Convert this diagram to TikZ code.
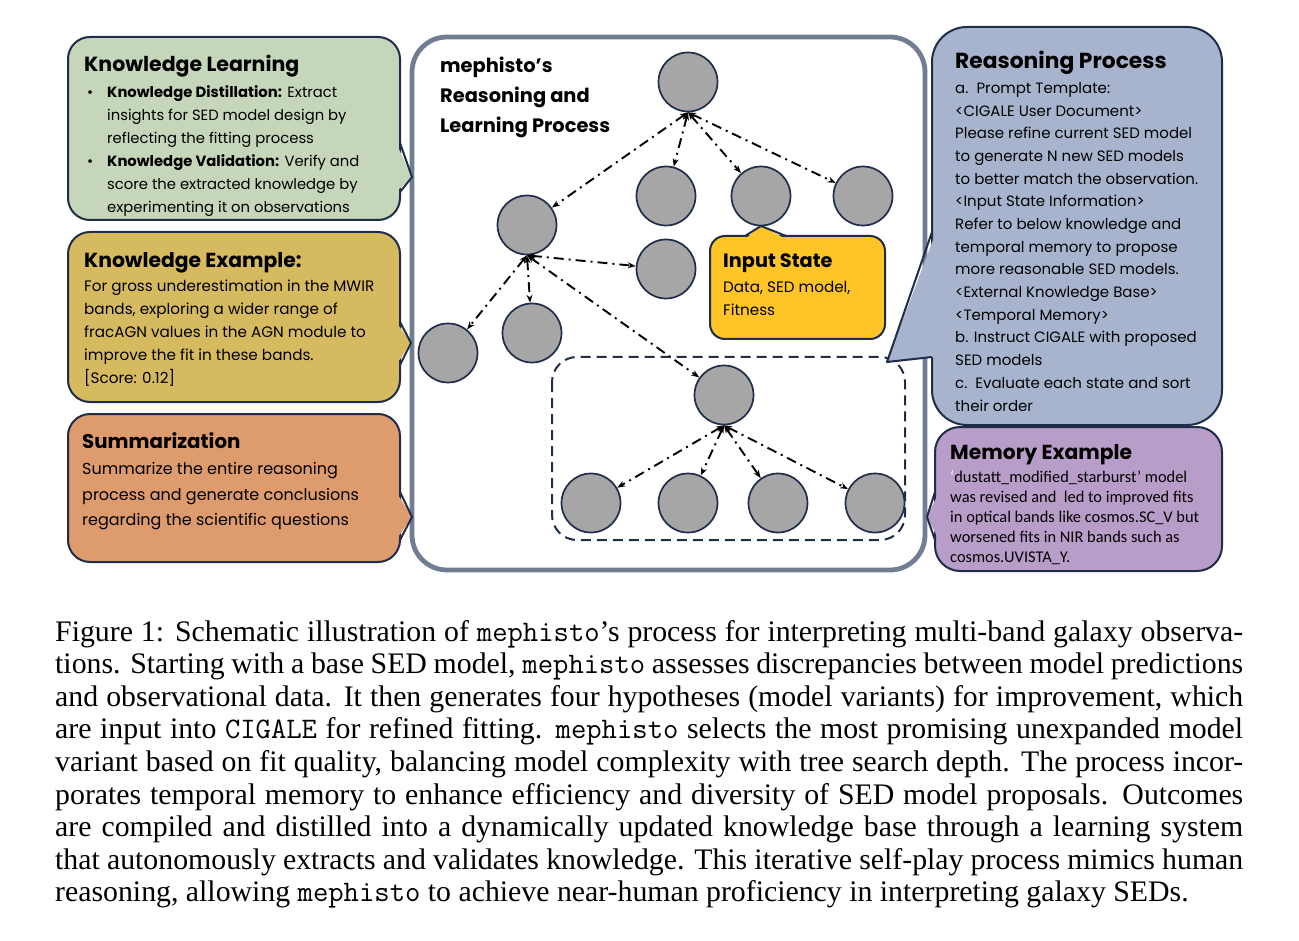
\documentclass[tikz,border=0pt]{standalone}
\usepackage{fontspec}
\setmainfont{Liberation Serif}
\newfontfamily\geofont{Poppins}
\newfontfamily\calfont{Carlito}
\usetikzlibrary{positioning,arrows.meta}

\definecolor{navy}{HTML}{1F2D49}
\definecolor{slate}{HTML}{717D92}
\definecolor{stategray}{HTML}{A6A6A6}
\definecolor{klgreen}{HTML}{C5D6BA}
\definecolor{kegold}{HTML}{D6BA60}
\definecolor{suorange}{HTML}{DE9B6E}
\definecolor{rpblue}{HTML}{A8B4CE}
\definecolor{mepurple}{HTML}{B99DC9}
\definecolor{isyellow}{HTML}{FFC425}

\begin{document}
\begin{tikzpicture}[x=1pt, y=-1pt,
  state/.style={circle, draw=navy, line width=1.7pt, fill=stategray, minimum size=59pt, inner sep=0},
  link/.style={{Stealth[length=8pt,width=6pt]}-{Stealth[length=8pt,width=6pt]}, line width=1.9pt,
    dash pattern=on 10pt off 5pt on 2pt off 5pt},
  panel/.style={draw=navy, line width=2pt, rounded corners=22pt},
  edge/.style={draw=navy, line width=2pt, line join=round},
  head/.style={anchor=base west, inner sep=0, font=\geofont\bfseries\fontsize{20.3}{24}\selectfont},
  note/.style={anchor=north west, inner sep=0, align=left, font=\geofont\fontsize{14.8}{23}\selectfont},
  capline/.style={anchor=base west, inner sep=0, font=\fontsize{29.8}{32.6}\selectfont}]
\useasboundingbox (0,0) rectangle (1299,941);

% main frame
\draw[draw=slate, line width=4.8pt, rounded corners=35pt, fill=white] (412,37) rectangle (925,570);
\node[anchor=north west, inner sep=0, align=left, font=\geofont\bfseries\fontsize{19.4}{30}\selectfont]
  (title) at (440,57) {mephisto’s\\ Reasoning and\\ Learning Process};

% left panels
\draw[panel, fill=klgreen] (68,37) rectangle (400,220);
\fill[klgreen] (396,143) -- (412,177) -- (396,192) -- cycle;
\draw[edge] (400,143) -- (412,177) -- (400,192);
\node[head, font=\geofont\bfseries\fontsize{20.5}{24}\selectfont] (kl-title) at (84,72) {Knowledge Learning};
\node[note] (kl-text) at (107,85)
  {\llap{\textbullet\hspace{14pt}}\textbf{Knowledge Distillation:} Extract\\ insights for SED model design by\\ reflecting the fitting process\\
   \llap{\textbullet\hspace{14pt}}\textbf{Knowledge Validation:} Verify and\\ score the extracted knowledge by\\ experimenting it on observations};

\draw[panel, fill=kegold] (68,232) rectangle (400,402);
\fill[kegold] (396,322) -- (411,343) -- (396,365) -- cycle;
\draw[edge] (400,322) -- (411,343) -- (400,365);
\node[head] (ke-title) at (84,268) {Knowledge Example:};
\node[note, font=\geofont\fontsize{15.2}{23}\selectfont] (ke-text) at (84,280)
  {For gross underestimation in the MWIR\\ bands, exploring a wider range of\\ fracAGN values in the AGN module to\\ improve the fit in these bands.\\ {[Score: 0.12]}};

\draw[panel, fill=suorange] (68,414) rectangle (400,562);
\fill[suorange] (396,492) -- (412,517) -- (396,540) -- cycle;
\draw[edge] (400,492) -- (412,517) -- (400,540);
\node[head, font=\geofont\bfseries\fontsize{19.8}{24}\selectfont] (su-title) at (82,448) {Summarization};
\node[note, font=\geofont\fontsize{16}{25.5}\selectfont] (su-text) at (82,462.5)
  {Summarize the entire reasoning\\ process and generate conclusions\\ regarding the scientific questions};

% search tree
\draw[navy, line width=2pt, dash pattern=on 10pt off 6pt, rounded corners=25pt] (552,357) rectangle (905,540);
\node[state] (root) at (688,82) {};
\node[state] (n1) at (527,225) {};
\node[state] (n2) at (666,196) {};
\node[state] (n3) at (761,196) {};
\node[state] (n4) at (863,196) {};
\node[state] (n5) at (448,353) {};
\node[state] (n6) at (532,333) {};
\node[state] (n7) at (666,269) {};
\node[state] (sub) at (724,395) {};
\node[state] (b1) at (591,503) {};
\node[state] (b2) at (688,503) {};
\node[state] (b3) at (778,503) {};
\node[state] (b4) at (875,503) {};
\draw[link] (root.south) -- (n1);
\draw[link] (root.south) -- (n2);
\draw[link] (root.south) -- (n3);
\draw[link] (root.south) -- (n4);
\draw[link] (n1.south) -- (n5);
\draw[link] (n1.south) -- (n6);
\draw[link] (n1.south) -- (n7);
\draw[link] (n1.south) -- (sub);
\draw[link] (sub.south) -- (b1);
\draw[link] (sub.south) -- (b2);
\draw[link] (sub.south) -- (b3);
\draw[link] (sub.south) -- (b4);

% input state
\draw[panel, rounded corners=15pt, fill=isyellow] (710,236) rectangle (885,339);
\fill[isyellow] (745,239) -- (761,226) -- (786,239) -- cycle;
\draw[edge] (745,236) -- (761,226) -- (786,236);
\node[head, font=\geofont\bfseries\fontsize{19.3}{24}\selectfont] (is-title) at (723,268) {Input State};
\node[note, font=\geofont\fontsize{15.2}{23}\selectfont] (is-text) at (723,281) {Data, SED model,\\ Fitness};

% right panels
\draw[panel, rounded corners=35pt, fill=rpblue] (932,27) rectangle (1222,425);
\fill[rpblue] (936,232) -- (887,362) -- (936,357) -- cycle;
\draw[edge] (932,232) -- (887,362) -- (932,357);
\node[head, font=\geofont\bfseries\fontsize{21.8}{24}\selectfont] (rp-title) at (955,69) {Reasoning Process};
\node[note, font=\geofont\fontsize{15}{22.7}\selectfont] (rp-text) at (955,82)
  {a.\ \ Prompt Template:\\ <CIGALE User Document>\\ Please refine current SED model\\ to generate N new SED models\\
   to better match the observation.\\ <Input State Information>\\ Refer to below knowledge and\\ temporal memory to propose\\
   more reasonable SED models.\\ <External Knowledge Base>\\ <Temporal Memory>\\ b. Instruct CIGALE with proposed\\
   SED models\\ c.\ \ Evaluate each state and sort\\ their order};

\draw[panel, rounded corners=25pt, fill=mepurple] (935,427) rectangle (1222,571);
\fill[mepurple] (939,492) -- (927,517) -- (939,540) -- cycle;
\draw[edge] (935,492) -- (927,517) -- (935,540);
\node[head] (me-title) at (950,459) {Memory Example};
\node[note, font=\calfont\fontsize{16.4}{20.1}\selectfont] (me-text) at (950,470.5)
  {{\color{white}‘}dustatt\_modified\_starburst’ model\\ was revised and\ \ led to improved fits\\ in optical bands like cosmos.SC\_V but\\
   worsened fits in NIR bands such as\\ cosmos.UVISTA\_Y.};

% caption
\node[capline] (cap1) at (55,641) {\makebox[1188pt][s]{Figure 1: Schematic illustration of \texttt{mephisto}’s process for interpreting multi-band galaxy observa-}};
\node[capline] (cap2) at (55,673.6) {\makebox[1188pt][s]{tions. Starting with a base SED model, \texttt{mephisto} assesses discrepancies between model predictions}};
\node[capline] (cap3) at (55,706.2) {\makebox[1188pt][s]{and observational data. It then generates four hypotheses (model variants) for improvement, which}};
\node[capline] (cap4) at (55,738.8) {\makebox[1188pt][s]{are input into \texttt{CIGALE} for refined fitting. \texttt{mephisto} selects the most promising unexpanded model}};
\node[capline] (cap5) at (55,771.4) {\makebox[1188pt][s]{variant based on fit quality, balancing model complexity with tree search depth. The process incor-}};
\node[capline] (cap6) at (55,804) {\makebox[1188pt][s]{porates temporal memory to enhance efficiency and diversity of SED model proposals. Outcomes}};
\node[capline] (cap7) at (55,836.6) {\makebox[1188pt][s]{are compiled and distilled into a dynamically updated knowledge base through a learning system}};
\node[capline] (cap8) at (55,869.2) {\makebox[1188pt][s]{that autonomously extracts and validates knowledge. This iterative self-play process mimics human}};
\node[capline] (cap9) at (55,901.8) {reasoning, allowing \texttt{mephisto} to achieve near-human proficiency in interpreting galaxy SEDs.};
\end{tikzpicture}
\end{document}
